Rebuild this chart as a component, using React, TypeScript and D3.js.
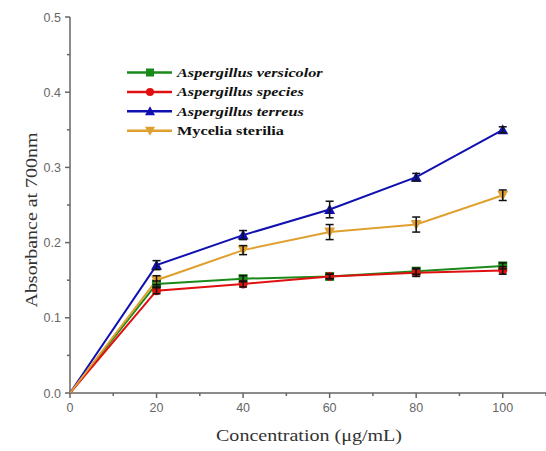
import React from "react";
import * as d3 from "d3";

const concentrations = [0, 20, 40, 60, 80, 100];
const versicolor = [0, 0.145, 0.152, 0.155, 0.162, 0.169];
const versicolorErr = [0, 0.004, 0.004, 0.003, 0.004, 0.004];
const species = [0, 0.136, 0.145, 0.155, 0.160, 0.163];
const speciesErr = [0, 0.004, 0.004, 0.003, 0.005, 0.005];
const terreus = [0, 0.170, 0.210, 0.244, 0.287, 0.350];
const terreusErr = [0, 0.006, 0.006, 0.011, 0.005, 0.004];
const sterilia = [0, 0.150, 0.190, 0.214, 0.224, 0.263];
const steriliaErr = [0, 0.006, 0.006, 0.010, 0.010, 0.007];
const seriesNames = ["Aspergillus versicolor", "Aspergillus species", "Aspergillus terreus", "Mycelia sterilia"];
const xTicks = [0, 20, 40, 60, 80, 100];
const yTicks = [0, 0.1, 0.2, 0.3, 0.4, 0.5];

const colors = ["#1a8a1a", "#e01010", "#1010b0", "#e0a030"];
const shapes = ["square", "circle", "up", "down"];

function Marker({ shape, x, y, color, s = 4.5 }: any) {
  if (shape === "square") return <rect x={x - s} y={y - s} width={2 * s} height={2 * s} fill={color} />;
  if (shape === "circle") return <circle cx={x} cy={y} r={s} fill={color} />;
  if (shape === "up") return <path d={`M${x},${y - s - 1}L${x + s + 1},${y + s}L${x - s - 1},${y + s}Z`} fill={color} />;
  return <path d={`M${x},${y + s + 1}L${x + s + 1},${y - s}L${x - s - 1},${y - s}Z`} fill={color} />;
}

export default function App() {
  const W = 546, H = 451;
  const x = d3.scaleLinear().domain([0, 110]).range([70, 546]);
  const y = d3.scaleLinear().domain([0, 0.5]).range([393, 17]);
  const data = [
    { v: versicolor, e: versicolorErr },
    { v: species, e: speciesErr },
    { v: terreus, e: terreusErr },
    { v: sterilia, e: steriliaErr },
  ];
  const line = d3.line<number>().x((_, i) => x(concentrations[i])).y((d) => y(d));
  const axisColor = "#666";
  const minorX = d3.range(10, 111, 20);
  const minorY = d3.range(0.05, 0.5, 0.1);
  const tickFont = "Liberation Sans, Arial";
  return (
    <svg width={W} height={H} style={{ position: "absolute", left: 0, top: 0, background: "#fff" }}>
      {/* axes */}
      <line x1={x(0)} x2={x(0)} y1={y(0.5)} y2={y(0)} stroke={axisColor} strokeWidth={1.5} />
      <line x1={x(0)} x2={546} y1={y(0)} y2={y(0)} stroke={axisColor} strokeWidth={1.5} />
      {yTicks.map((t) => (
        <g key={"y" + t}>
          <line x1={x(0) - 5} x2={x(0)} y1={y(t)} y2={y(t)} stroke={axisColor} strokeWidth={1.5} />
          <text
            x={x(0) - 9}
            y={y(t) + 4.5}
            textAnchor="end"
            fontFamily={tickFont}
            fontSize={12.5}
            fill="#666"
          >
            {t.toFixed(1)}
          </text>
        </g>
      ))}
      {minorY.map((t) => (
        <line key={"my" + t} x1={x(0) - 3} x2={x(0)} y1={y(t)} y2={y(t)} stroke={axisColor} strokeWidth={1.5} />
      ))}
      {xTicks.map((t) => (
        <g key={"x" + t}>
          <line x1={x(t)} x2={x(t)} y1={y(0)} y2={y(0) + 5} stroke={axisColor} strokeWidth={1.5} />
          <text
            x={x(t)}
            y={y(0) + 19}
            textAnchor="middle"
            fontFamily={tickFont}
            fontSize={12.5}
            fill="#666"
          >
            {t}
          </text>
        </g>
      ))}
      {minorX.map((t) => (
        <line key={"mx" + t} x1={x(t)} x2={x(t)} y1={y(0)} y2={y(0) + 3} stroke={axisColor} strokeWidth={1.5} />
      ))}
      <text
        transform={`translate(37,${220}) rotate(-90)`}
        x={-87.5}
        textLength={175}
        lengthAdjust="spacingAndGlyphs"
        fontFamily="Liberation Serif, Times New Roman"
        fontSize={17}
        fill="#333"
      >
        Absorbance at 700nm
      </text>
      <text
        x={216}
        y={441}
        textLength={186}
        lengthAdjust="spacingAndGlyphs"
        fontFamily="Liberation Serif, Times New Roman"
        fontSize={17.5}
        fill="#333"
      >
        Concentration (μg/mL)
      </text>
      {/* lines */}
      {data.map((s, i) => (
        <path key={"l" + i} d={line(s.v) || ""} fill="none" stroke={colors[i]} strokeWidth={2} />
      ))}
      {/* markers */}
      {data.map((s, i) =>
        s.v.map((v, j) => (j === 0 ? null : (
          <Marker key={`m${i}-${j}`} shape={shapes[i]} x={x(concentrations[j])} y={y(v)} color={colors[i]} />
        )))
      )}
      {/* error bars */}
      {data.map((s, i) =>
        s.v.map((v, j) => {
          if (j === 0) return null;
          const cx = x(concentrations[j]);
          const y1 = y(v + s.e[j]);
          const y2 = y(v - s.e[j]);
          return (
            <g key={`e${i}-${j}`} stroke="#111" strokeWidth={1.5}>
              <line x1={cx} x2={cx} y1={y1} y2={y2} />
              <line x1={cx - 4} x2={cx + 4} y1={y1} y2={y1} />
              <line x1={cx - 4} x2={cx + 4} y1={y2} y2={y2} />
            </g>
          );
        })
      )}
      {/* legend */}
      {seriesNames.map((n, i) => {
        const ly = 72.5 + i * 19.4;
        return (
          <g key={"lg" + i}>
            <line x1={127} x2={172} y1={ly} y2={ly} stroke={colors[i]} strokeWidth={2.5} />
            <Marker shape={shapes[i]} x={150} y={ly} color={colors[i]} s={4} />
            <text
              transform={`translate(177,${ly + 4.5}) scale(1.25,1)`}
              fontFamily="Liberation Serif, Times New Roman"
              fontSize={13}
              fontWeight="bold"
              fontStyle={i < 3 ? "italic" : "normal"}
              fill="#111"
            >
              {n}
            </text>
          </g>
        );
      })}
    </svg>
  );
}
